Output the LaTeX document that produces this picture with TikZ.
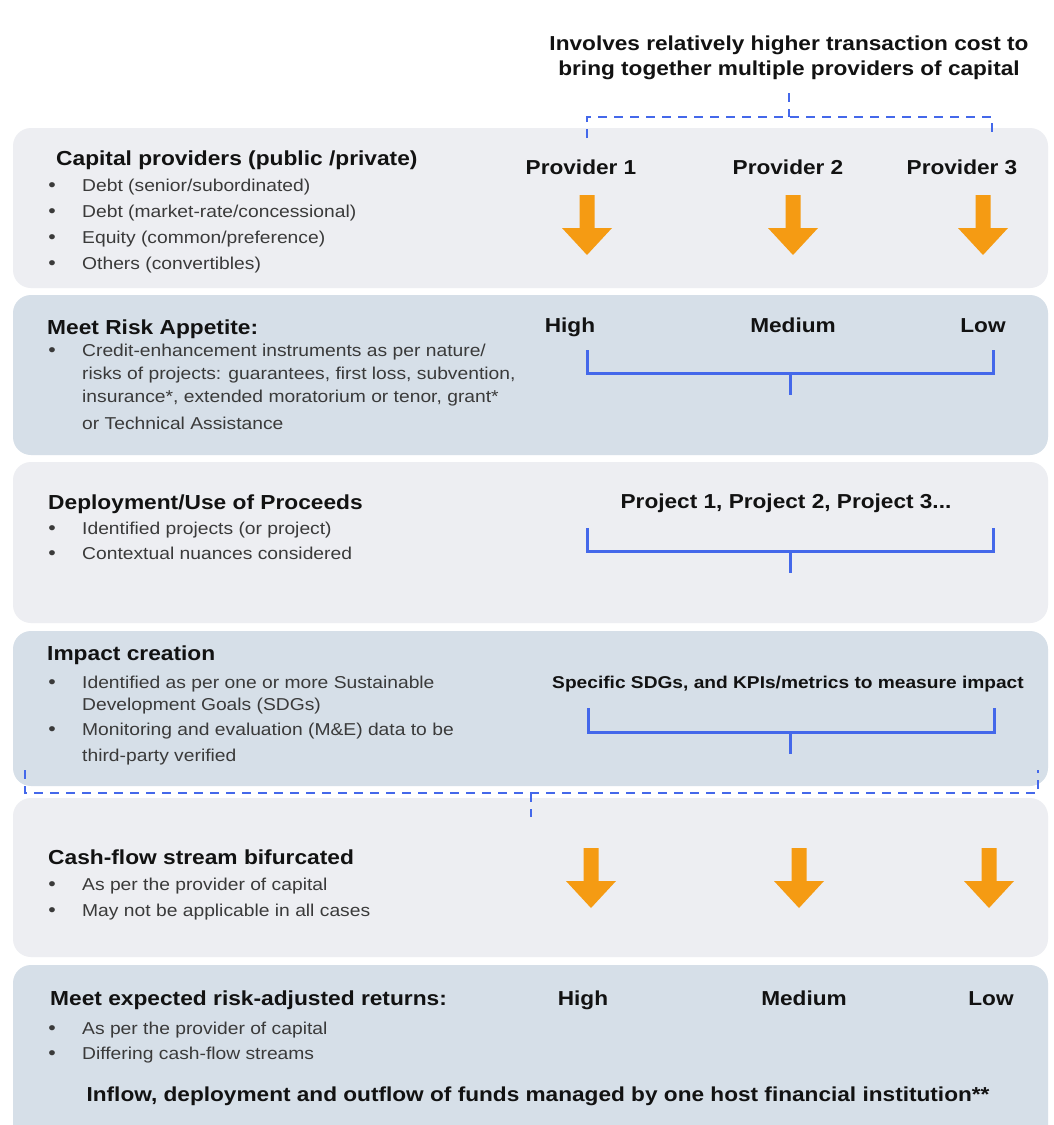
\documentclass[tikz,border=0pt]{standalone}
\usepackage{fontspec}
\setmainfont{Liberation Sans}[FakeStretch=1.12]
\definecolor{lightp}{HTML}{EDEEF2}
\definecolor{bluep}{HTML}{D6DFE8}
\definecolor{lineb}{HTML}{4468EA}
\definecolor{orng}{HTML}{F59B13}
\definecolor{headc}{HTML}{121212}
\definecolor{bodyc}{HTML}{3A3A3A}
\newcommand\bline[3]{\node[bt] (#1) at (82,#2) {#3}; \node[bdot] (#1d) at (52,#2) {\textbullet};}
\begin{document}
\begin{tikzpicture}[x=1pt,y=-1pt,
  panel/.style={rounded corners=18pt},
  hd/.style={anchor=base west, inner sep=0, text=headc, font=\fontsize{20.3}{24}\selectfont\bfseries},
  bt/.style={anchor=base west, inner sep=0, text=bodyc, font=\fontsize{17.2}{20}\selectfont},
  bdot/.style={anchor=base, inner sep=0, text=bodyc, font=\fontsize{19}{20}\selectfont},
  lab/.style={anchor=base, inner sep=0, text=headc, font=\fontsize{20.2}{22}\selectfont\bfseries},
  sublab/.style={anchor=base, inner sep=0, text=headc, font=\fontsize{17.1}{20}\selectfont\bfseries},
  foot/.style={anchor=base, inner sep=0, text=headc, font=\fontsize{20.2}{22}\selectfont\bfseries},
  brk/.style={draw=lineb, line width=3pt},
  dsh/.style={draw=lineb, line width=2.8pt, dash pattern=on 9pt off 7pt},
  orarr/.pic={\fill[orng] (-7.5,0) -- (7.5,0) -- (7.5,33) -- (25,33) -- (0,60) -- (-25,33) -- (-7.5,33) -- cycle;}
]
\useasboundingbox (0,0) rectangle (1053,1125);
\fill[white] (0,0) rectangle (1053,1125);
\begin{scope}
\clip (0,0) rectangle (1053,1125);
\fill[lightp,panel] (13,128) rectangle (1048,288);
\fill[bluep,panel] (13,295) rectangle (1048,455);
\fill[lightp,panel] (13,462) rectangle (1048,623);
\fill[bluep,panel] (13,631) rectangle (1048,786);
\fill[lightp,panel] (13,798) rectangle (1048,957);
\fill[bluep,panel] (13,965) rectangle (1048,1150);
\end{scope}

% title
\node[lab] (t1) at (789,50) {Involves relatively higher transaction cost to};
\node[lab] (t2) at (789,75) {bring together multiple providers of capital};

% top dashed bracket
\coordinate (dt) at (789,93);
\coordinate (dl) at (587,138);
\coordinate (dr) at (992,138);
\draw[dsh] (dl) -- (587,117) -- (992,117) -- (dr);
\draw[dsh] (dt) -- (789,117);

% panel 1
\node[hd] (h1) at (56,165) {Capital providers (public /private)};
\bline{b11}{191}{Debt (senior/subordinated)}
\bline{b12}{217}{Debt (market-rate/concessional)}
\bline{b13}{243}{Equity (common/preference)}
\bline{b14}{269}{Others (convertibles)}
\node[lab] (pv1) at (581,174) {Provider 1};
\node[lab] (pv2) at (788,174) {Provider 2};
\node[lab] (pv3) at (962,174) {Provider 3};
\pic at (587,195) {orarr};
\pic at (793,195) {orarr};
\pic at (983,195) {orarr};

% panel 2
\node[hd] (h2) at (47,334) {Meet Risk Appetite:};
\bline{b21}{356}{Credit-enhancement instruments as per nature/}
\node[bt] (b22) at (82,379) {risks of projects: guarantees, first loss, subvention,};
\node[bt] (b23) at (82,402) {insurance*, extended moratorium or tenor, grant*};
\node[bt] (b24) at (82,429) {or Technical Assistance};
\node[lab] (r1) at (570,332) {High};
\node[lab] (r2) at (793,332) {Medium};
\node[lab] (r3) at (983,332) {Low};
\draw[brk] (587,350) -- (587,373) -- (993,373) -- (993,350);
\draw[brk] (790,373) -- (790,395);

% panel 3
\node[hd] (h3) at (48,509) {Deployment/Use of Proceeds};
\bline{b31}{534}{Identified projects (or project)}
\bline{b32}{559}{Contextual nuances considered}
\node[lab] (pj) at (786,508) {Project 1, Project 2, Project 3...};
\draw[brk] (587,528) -- (587,551) -- (993,551) -- (993,528);
\draw[brk] (790,551) -- (790,573);

% panel 4
\node[hd] (h4) at (47,660) {Impact creation};
\bline{b41}{688}{Identified as per one or more Sustainable}
\node[bt] (b42) at (82,710) {Development Goals (SDGs)};
\bline{b43}{735}{Monitoring and evaluation (M\&E) data to be}
\node[bt] (b44) at (82,761) {third-party verified};
\node[sublab] (sd) at (788,688) {Specific SDGs, and KPIs/metrics to measure impact};
\draw[brk] (588,708) -- (588,732) -- (994,732) -- (994,708);
\draw[brk] (790,732) -- (790,754);

% bottom dashed bracket
\coordinate (el) at (25,770);
\coordinate (er) at (1038,770);
\coordinate (et) at (531,817);
\draw[dsh] (el) -- (25,793) -- (1038,793) -- (er);
\draw[dsh] (531,793) -- (et);

% panel 5
\node[hd] (h5) at (48,864) {Cash-flow stream bifurcated};
\bline{b51}{890}{As per the provider of capital}
\bline{b52}{916}{May not be applicable in all cases}
\pic at (591,848) {orarr};
\pic at (799,848) {orarr};
\pic at (989,848) {orarr};

% panel 6
\node[hd] (h6) at (50,1005) {Meet expected risk-adjusted returns:};
\node[lab] (q1) at (583,1005) {High};
\node[lab] (q2) at (804,1005) {Medium};
\node[lab] (q3) at (991,1005) {Low};
\bline{b61}{1034}{As per the provider of capital}
\bline{b62}{1059}{Differing cash-flow streams}
\node[foot] (ft) at (538,1101) {Inflow, deployment and outflow of funds managed by one host financial institution**};
\end{tikzpicture}
\end{document}
